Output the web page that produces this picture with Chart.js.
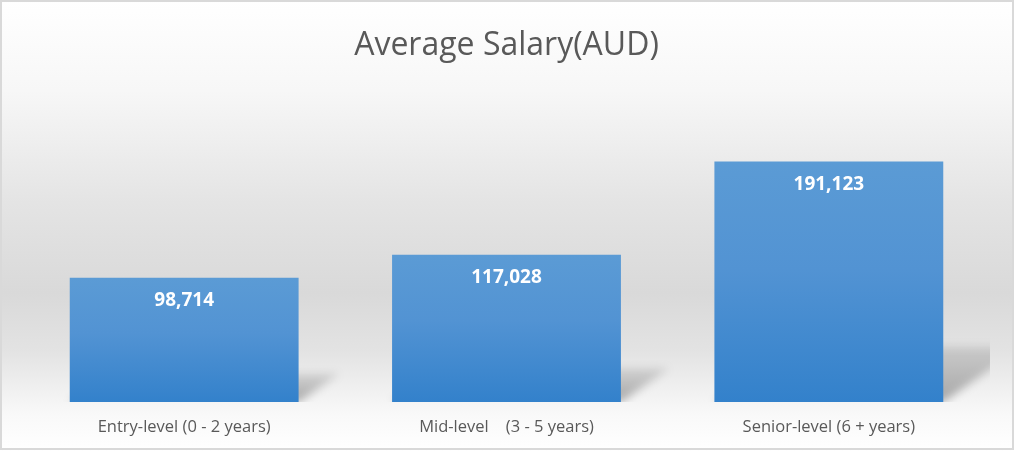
<!DOCTYPE html>
<html>
<head>
<meta charset="utf-8">
<script src="https://cdn.jsdelivr.net/npm/chart.js@4.4.0/dist/chart.umd.min.js"></script>
<style>
  html, body { margin: 0; padding: 0; background: #fff; }
  #wrap { width: 1014px; height: 451px; }
</style>
</head>
<body>
<div id="wrap"><canvas id="salaryChart" width="1014" height="451"></canvas></div>
<script>
const categories = ['Entry-level (0 - 2 years)', 'Mid-level    (3 - 5 years)', 'Senior-level (6 + years)'];
const salaries = [98714, 117028, 191123];
const chartTitle = 'Average Salary(AUD)';

const fmt = (v) => v.toLocaleString('en-US');

// fundo em degradê + borda, como no Excel
const backgroundPlugin = {
  id: 'bgGradient',
  beforeDraw(chart) {
    const ctx = chart.ctx;
    const w = chart.width, h = chart.height;
    ctx.save();
    const g = ctx.createLinearGradient(0, 0, 0, h);
    g.addColorStop(0, '#ffffff');
    g.addColorStop(0.2, '#f7f7f7');
    g.addColorStop(0.45, '#e4e4e4');
    g.addColorStop(0.65, '#d9d9d9');
    g.addColorStop(0.78, '#e3e3e3');
    g.addColorStop(0.92, '#f9f9f9');
    g.addColorStop(1, '#ffffff');
    ctx.fillStyle = g;
    ctx.fillRect(0, 0, w, h);
    ctx.strokeStyle = '#d9d9d9';
    ctx.lineWidth = 2;
    ctx.strokeRect(1, 1, w - 2, h - 3);
    ctx.restore();
  },
};

// sombra em perspectiva atrás das barras
const shadowPlugin = {
  id: 'barShadow',
  beforeDatasetsDraw(chart) {
    const ctx = chart.ctx;
    const area = chart.chartArea;
    const meta = chart.getDatasetMeta(0);
    ctx.save();
    ctx.beginPath();
    ctx.rect(area.left, area.top, area.right - area.left, area.bottom - area.top);
    ctx.clip();
    meta.data.forEach((bar) => {
      const left = bar.x - bar.width / 2;
      const right = bar.x + bar.width / 2;
      const base = bar.base;
      const hgt = base - bar.y;
      const dx = hgt * 0.33;
      const dy = hgt * 0.23;
      const g = ctx.createLinearGradient(0, base, 0, base - dy);
      g.addColorStop(0, 'rgba(0,0,0,0.32)');
      g.addColorStop(1, 'rgba(0,0,0,0.1)');
      ctx.filter = 'blur(4px)';
      ctx.fillStyle = g;
      ctx.beginPath();
      ctx.moveTo(left, base);
      ctx.lineTo(right, base);
      ctx.lineTo(right + dx, base - dy);
      ctx.lineTo(left + dx, base - dy);
      ctx.closePath();
      ctx.fill();
    });
    ctx.restore();
  },
};

// rótulos de valor dentro das barras
const valueLabels = {
  id: 'valueLabels',
  afterDatasetsDraw(chart) {
    const ctx = chart.ctx;
    const meta = chart.getDatasetMeta(0);
    ctx.save();
    ctx.fillStyle = '#ffffff';
    ctx.font = 'bold 19px "Open Sans"';
    ctx.textAlign = 'center';
    ctx.textBaseline = 'middle';
    meta.data.forEach((bar, i) => {
      ctx.fillText(fmt(salaries[i]), bar.x, bar.y + 23);
    });
    ctx.restore();
  },
};

const ctx = document.getElementById('salaryChart');

new Chart(ctx, {
  type: 'bar',
  data: {
    labels: categories,
    datasets: [
      {
        label: 'Average Salary',
        data: salaries,
        barPercentage: 0.71,
        categoryPercentage: 1,
        borderWidth: 0,
        backgroundColor: function (context) {
          const chart = context.chart;
          const area = chart.chartArea;
          if (!area) return '#4a8fd3';
          const yScale = chart.scales.y;
          const top = yScale.getPixelForValue(context.raw);
          const bottom = yScale.getPixelForValue(0);
          const g = chart.ctx.createLinearGradient(0, top, 0, bottom);
          g.addColorStop(0, '#5b9bd5');
          g.addColorStop(0.45, '#5293d3');
          g.addColorStop(1, '#3381cb');
          return g;
        },
      },
    ],
  },
  options: {
    responsive: false,
    animation: false,
    devicePixelRatio: 1,
    layout: {
      padding: { top: 0, bottom: 0, left: 23, right: 24 },
    },
    plugins: {
      legend: { display: false },
      tooltip: { enabled: false },
      title: {
        display: true,
        text: chartTitle,
        color: '#595959',
        font: { family: 'Open Sans', size: 32, weight: 'normal' },
        padding: { top: 27, bottom: 22 },
      },
    },
    scales: {
      x: {
        grid: { display: false, drawTicks: false },
        border: { display: false },
        afterFit(scale) {
          scale.height = 49;
        },
        ticks: {
          color: '#595959',
          font: { family: 'Open Sans', size: 16.5 },
          padding: 15,
          maxRotation: 0,
          autoSkip: false,
        },
      },
      y: {
        display: false,
        min: 0,
        max: 250000,
      },
    },
  },
  plugins: [backgroundPlugin, shadowPlugin, valueLabels],
});
</script>
</body>
</html>
